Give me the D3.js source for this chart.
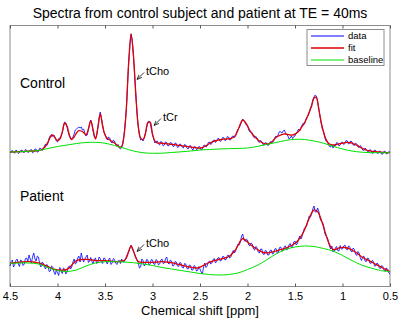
<!DOCTYPE html>
<html>
<head>
<meta charset="utf-8">
<script src="https://cdn.jsdelivr.net/npm/d3@7"></script>
<style>
body { margin: 0; background: #fff; }
svg { display: block; font-family: "Liberation Sans", Arial, sans-serif; }
</style>
</head>
<body>
<script>
// x axis ticks (ppm, reversed axis)
const ppmTicks = [4.5, 4, 3.5, 3, 2.5, 2, 1.5, 1, 0.5];

// all series start at 4.5 ppm and go down to 0.5 ppm
const ppmHigh = 4.5;
const dataStep = 0.0125; // measured data, 321 points
const fitStep = 0.025;   // fit, 161 points
const baseStep = 0.1;    // baseline, 41 points

const controlData = [
  3, 4.8, 5.5, 3.5, 2.8, 6, 5, 2.5, 3.2, 5.5, 6, 4, 3.5, 6.5, 5.8, 3.5, 4, 5.8, 6.5, 3.2,
  4, 7, 6.8, 3.8, 4.5, 7.8, 7.5, 5.5, 6.5, 10, 12, 10.5, 13, 18, 20.5, 21.5, 19.5, 21, 18.5, 15,
  14, 17.5, 18, 20, 23, 29, 34, 33, 29, 24, 20, 17, 17, 19, 22, 26, 27, 28, 29, 28,
  29, 26, 27, 23, 20, 21, 26, 32, 36, 32, 25, 19, 18, 21, 29, 38, 44, 38, 31, 24,
  22, 18, 16, 19, 18, 14, 13, 16, 15, 11, 10, 11.5, 8, 7, 8.5, 13, 21, 33, 47, 72,
  94, 111, 122, 114, 99, 80, 61, 43, 29, 21, 16, 17, 15, 18, 23, 28, 34, 35, 33, 27,
  21, 17, 13, 14.5, 15, 12, 11, 14.5, 14, 10, 11, 14, 13.5, 10, 10.5, 13.5, 13, 10, 9.5, 13,
  12.5, 8.5, 9, 12, 11.5, 9, 8, 11.5, 11, 8, 7, 10, 10.5, 7.5, 6, 9, 9.5, 6.5, 7, 9.5,
  9, 6, 7, 10.5, 11, 9, 10, 13.5, 14, 11.5, 12.5, 15.5, 16, 13.5, 15, 17.5, 17.5, 14.5, 15.5, 18.5,
  18.5, 15.5, 16, 19.5, 19, 16, 16.5, 19.5, 20, 18.5, 20, 24.5, 27, 28, 31, 35, 37, 35, 33, 31,
  31, 26, 24, 24.5, 23, 19, 18, 19.5, 18, 14.5, 13.5, 15.5, 14.5, 11.5, 11, 13.5, 13, 10.5, 11, 14,
  14.5, 13.5, 15, 18.5, 20, 19, 22, 24.5, 24, 23, 25, 26, 23, 21.5, 20, 17, 18, 20, 17.5, 19.5,
  20, 23, 24.5, 27, 25, 28.5, 31, 33, 32, 36, 39, 40, 43, 48, 51, 56, 59, 61, 60, 54,
  48, 40, 33, 27, 25, 19, 15, 15, 12, 9.5, 9, 11.5, 8, 11, 10, 13.5, 13, 10, 11, 13.5,
  14, 11.5, 12.5, 15.5, 15, 12, 12.5, 15, 14, 11, 10.5, 13, 12, 9, 8.5, 10.5, 9, 6, 5.5, 8,
  6.5, 4.5, 4, 6.5, 5.5, 2.5, 3, 6, 5.5, 3, 2.5, 5, 4.5, 1.8, 2, 4.8, 4.5, 2, 2.5, 4.5,
  3.8
];

const controlFit = [
  4, 4, 4.2, 4.3, 4.3, 4.5, 4.5, 4.6, 4.8, 5,
  5, 5.2, 5.5, 6, 7.5, 10, 14, 19, 21, 18,
  15.5, 17, 24, 33, 30, 21, 16.5, 19, 23, 25.3,
  25, 23.5, 21, 27, 35, 26, 17, 28, 42, 30,
  21, 17.5, 16, 14.5, 13, 11, 9, 9.5, 20, 48,
  95, 122, 100, 60, 30, 18, 16.5, 22, 33, 34,
  22, 15, 13, 13, 12.7, 12.5, 12.2, 12, 11.7, 11.3,
  11, 10.7, 10.4, 10, 9.7, 9.4, 9, 8.7, 8.3, 8,
  7.8, 8.5, 9.5, 11, 12.5, 13.8, 14.8, 15.5, 16, 16.5,
  16.8, 17, 17.2, 17.5, 18.5, 21, 26, 32, 36, 34,
  30, 25.5, 22, 19.5, 17, 15, 13.5, 12.5, 12, 12.2,
  13.5, 16, 18.5, 20, 21, 21.8, 22, 21.5, 21, 21,
  22, 23.5, 26, 29.5, 33, 38, 44, 50, 58, 58.5,
  47, 34, 24, 17, 13, 11.5, 11, 11.3, 11.8, 12.3,
  12.8, 13.3, 13.7, 13.5, 12.8, 11.8, 10.8, 9.5, 8, 7,
  6, 5.3, 4.8, 4.5, 4.3, 4, 3.8, 3.6, 3.5, 3.4,
  3.3
];

const controlBaseline = [
  4, 4.2, 4.8, 5.5, 7.5, 9.5, 11, 12.5, 13.5, 13.7,
  12.8, 10.5, 7.8, 5, 3.3, 2.7, 2.8, 3.5, 4.2, 5,
  6, 6.5, 7, 7.3, 7.6, 8, 9.5, 11.5, 13.5, 15.5,
  16.7, 16.5, 15, 12.8, 9.8, 7, 5, 3.8, 3.3, 3.3,
  3.3
];

const patientData = [
  14, 18.5, 20, 13, 15.5, 19.5, 21, 16, 13.5, 20, 19, 14.5, 16, 21.5, 22, 19, 25, 21, 17, 23,
  27, 21, 19, 24, 23, 16, 13, 18, 17, 13, 11, 15.5, 14, 8.5, 9, 14, 13, 8, 5.5, 10,
  7, 4.5, 12.5, 9, 6.5, 12, 11, 6, 8, 13, 14, 11, 13, 18, 21, 16, 17, 22, 24, 18,
  27, 22, 18, 21, 23, 25, 17.5, 19, 22.5, 18.5, 16, 21, 22, 16.5, 18, 23, 21.5, 18, 16.5, 22,
  21.5, 18, 16, 20.5, 22, 15.5, 17, 21.5, 20.5, 17, 15.5, 19, 19.5, 16.5, 21, 18.5, 18, 20.5, 23.5, 26,
  28, 32, 35, 31, 28.5, 26, 23, 20, 17, 12, 13, 21, 19.5, 14, 15.5, 20.5, 20, 15, 16, 20.5,
  20, 16, 15.5, 20.5, 19.5, 15, 16, 20, 21, 16.5, 17, 21.5, 23, 17, 16, 20, 19, 14, 14.5, 18.5,
  18, 14, 13.5, 17.5, 17, 12.5, 12, 16.5, 16, 11.5, 11, 15, 14.5, 10, 10, 14.5, 13.5, 9, 9.5, 13.5,
  11, 8, 6, 13, 17, 12.5, 14, 18, 19, 16, 17, 20.5, 21.5, 17, 18.5, 22, 22.5, 19, 19.5, 23.5,
  23.5, 20, 20.5, 24.5, 25, 22, 23, 27, 29.5, 27, 29, 33, 36, 35, 38, 44, 46, 40, 38.5, 41,
  40, 35, 34, 37, 36, 31, 30, 33.5, 32.5, 28, 27, 31, 31, 26, 25.5, 29.5, 29, 25, 25, 29.5,
  30, 26, 26.5, 31, 31.5, 27, 28, 32.5, 33, 29, 29.5, 33.5, 34, 30, 31, 35.5, 36.5, 32.5, 33.5, 38,
  39, 35, 36.5, 41, 44, 41, 43.5, 48.5, 52, 52.5, 55, 60, 64, 63, 66, 71, 74, 68, 68, 72,
  69, 62, 59, 58, 55, 47, 44, 43, 39.5, 34, 31, 34, 28, 29, 32, 33.5, 29.5, 29, 34.5, 31,
  31, 34, 35, 31, 30, 34, 33.5, 29, 28, 32, 30.5, 26, 24.5, 28.5, 27, 22, 19.5, 23, 24, 19,
  18.5, 22, 21.5, 17, 16.5, 19.5, 18.5, 14, 14, 17, 16, 12, 11.5, 14.5, 13.5, 9.5, 9, 12, 11, 7,
  6
];

const patientFit = [
  16.7, 17, 17.3, 17.6, 17.8, 18, 18.2, 18.3, 18.3, 18.2,
  18, 17.6, 17.2, 16.5, 15.5, 14.5, 13.3, 12.2, 11.2, 10.5,
  10, 9.8, 9.8, 10, 10.7, 12.2, 15, 17.5, 19.3, 20,
  20.4, 20.6, 20.7, 20.5, 20.2, 19.8, 19.5, 19.3, 19.3, 19.3,
  19.3, 19.2, 19, 18.7, 18.4, 18.4, 18.6, 19, 19.5, 22,
  29, 34, 29, 22, 18.5, 17.8, 17.7, 17.6, 17.6, 17.7,
  17.7, 17.8, 18, 18.2, 18.3, 18.2, 17.9, 17.6, 17.3, 16.8,
  16.2, 15.6, 15, 14.4, 13.8, 13.3, 12.8, 12.4, 12.2, 12,
  12.8, 14, 15.2, 16.5, 17.6, 18.6, 19.3, 20, 20.6, 21.2,
  21.7, 22.3, 23.3, 25, 27.5, 30.5, 34.5, 39, 41.5, 40,
  38, 36, 34, 32.3, 30.7, 29.3, 28.2, 27.5, 27.2, 27.3,
  27.8, 28.4, 29, 29.8, 30.5, 31.2, 31.8, 32.8, 34, 35.3,
  36.7, 38.8, 41.7, 45.5, 50, 56, 61.7, 67, 70, 69.5,
  66.7, 60.5, 53.3, 45.5, 38.3, 33.5, 30.7, 30.5, 31.5, 32.3,
  32.7, 32.5, 32, 31.2, 30, 28.5, 27, 25.2, 23.3, 22,
  20.7, 19.5, 18.3, 17, 15.7, 14.5, 13.3, 12, 10.8, 9.5,
  8.3
];

const patientBaseline = [
  16.7, 17, 17, 16, 12.5, 9.5, 8.5, 10, 14, 17,
  18.3, 18.3, 18, 17.3, 16, 14.5, 12.5, 11, 9.5, 8,
  6.5, 5.5, 5, 5.5, 7, 10.5, 14.5, 20, 26, 30.5,
  33, 34, 33.5, 31.5, 29, 24.5, 19.5, 15, 12, 9.5,
  8.3
];

const legendLabels = ["data", "fit", "baseline"];
const legendColors = ["#0000ff", "#e00000", "#00e000"];

// annotations: arrow tip in data units (ppm, amplitude)
const notes = [
  { spectrum: "control", label: "tCho", ppm: 3.163, amp: 76.5 },
  { spectrum: "control", label: "tCr", ppm: 2.984, amp: 30.5 },
  { spectrum: "patient", label: "tCho", ppm: 3.163, amp: 28.5 }
];

const W = 400, H = 320;
const pLeft = 10, pRight = 390, pTop = 25.5, pBottom = 286.5;

const svg = d3.select("body").append("svg")
  .attr("width", W)
  .attr("height", H);

const x = d3.scaleLinear([4.5, 0.5], [pLeft, pRight]);
const yScales = {
  control: d3.scaleLinear([0, 130], [156, 26]),
  patient: d3.scaleLinear([0, 130], [280, 150])
};

const toPts = (arr, step) => arr.map((v, i) => [ppmHigh - i * step, v]);

// frame
svg.append("rect")
  .attr("x", pLeft).attr("y", pTop)
  .attr("width", pRight - pLeft).attr("height", pBottom - pTop)
  .attr("fill", "none").attr("stroke", "#8c8c8c").attr("stroke-width", 1);

const xAxis = svg.append("g")
  .attr("transform", `translate(0,${pBottom})`)
  .call(d3.axisBottom(x).tickValues(ppmTicks).tickSizeInner(-3).tickSizeOuter(0)
    .tickPadding(6).tickFormat(d => String(d)));
xAxis.select(".domain").remove();
xAxis.selectAll(".tick line").attr("stroke", "#555");
xAxis.selectAll(".tick text").attr("font-size", 11).attr("fill", "#000")
  .attr("font-family", "Liberation Sans, Arial, sans-serif");

const xTop = svg.append("g")
  .attr("transform", `translate(0,${pTop})`)
  .call(d3.axisTop(x).tickValues(ppmTicks).tickSizeInner(-3).tickSizeOuter(0).tickFormat(""));
xTop.select(".domain").remove();
xTop.selectAll(".tick line").attr("stroke", "#555");

const plot = svg.append("g");

function drawSpectrum(name, data, fit, base) {
  const y = yScales[name];
  const line = d3.line().x(d => x(d[0])).y(d => y(d[1]));
  const smooth = d3.line().x(d => x(d[0])).y(d => y(d[1])).curve(d3.curveCatmullRom.alpha(0.5));
  plot.append("path").datum(toPts(data, dataStep))
    .attr("d", line).attr("fill", "none")
    .attr("stroke", legendColors[0]).attr("stroke-width", 0.8);
  plot.append("path").datum(toPts(fit, fitStep))
    .attr("d", smooth).attr("fill", "none")
    .attr("stroke", legendColors[1]).attr("stroke-width", 1.3);
  plot.append("path").datum(toPts(base, baseStep))
    .attr("d", smooth).attr("fill", "none")
    .attr("stroke", legendColors[2]).attr("stroke-width", 1);
}

drawSpectrum("control", controlData, controlFit, controlBaseline);
drawSpectrum("patient", patientData, patientFit, patientBaseline);

// arrow annotations
svg.append("defs").append("marker")
  .attr("id", "head")
  .attr("viewBox", "0 0 10 10")
  .attr("refX", 10).attr("refY", 5)
  .attr("markerUnits", "userSpaceOnUse")
  .attr("markerWidth", 5).attr("markerHeight", 5)
  .attr("orient", "auto")
  .append("path")
  .attr("d", "M0,1 L10,5 L0,9")
  .attr("fill", "none").attr("stroke", "#000").attr("stroke-width", 1.4);

for (const n of notes) {
  const hx = x(n.ppm), hy = yScales[n.spectrum](n.amp);
  svg.append("line")
    .attr("x1", hx + 7).attr("y1", hy - 7)
    .attr("x2", hx).attr("y2", hy)
    .attr("stroke", "#000").attr("stroke-width", 0.8)
    .attr("marker-end", "url(#head)");
  svg.append("text")
    .attr("x", hx + 9).attr("y", hy - 4.8)
    .attr("font-size", 11)
    .text(n.label);
}

// spectrum names
svg.append("text").attr("x", 20).attr("y", 87.5).attr("font-size", 14).text("Control");
svg.append("text").attr("x", 20).attr("y", 201).attr("font-size", 14).text("Patient");

// title and axis label
svg.append("text").attr("x", 200).attr("y", 17.5).attr("text-anchor", "middle")
  .attr("font-size", 14).text("Spectra from control subject and patient at TE = 40ms");
svg.append("text").attr("x", 200).attr("y", 315).attr("text-anchor", "middle")
  .attr("font-size", 13).text("Chemical shift [ppm]");

// legend
const lg = svg.append("g");
lg.append("rect")
  .attr("x", 307).attr("y", 29.5).attr("width", 77).attr("height", 36)
  .attr("fill", "#fff").attr("stroke", "#8c8c8c").attr("stroke-width", 1);
legendLabels.forEach((lab, i) => {
  const ly = 36 + i * 12;
  lg.append("line")
    .attr("x1", 311).attr("x2", 344).attr("y1", ly).attr("y2", ly)
    .attr("stroke", legendColors[i]).attr("stroke-width", i == 1 ? 1.3 : 1);
  lg.append("text")
    .attr("x", 348).attr("y", ly).attr("dy", "0.35em")
    .attr("font-size", 9.5).text(lab);
});
</script>
</body>
</html>
